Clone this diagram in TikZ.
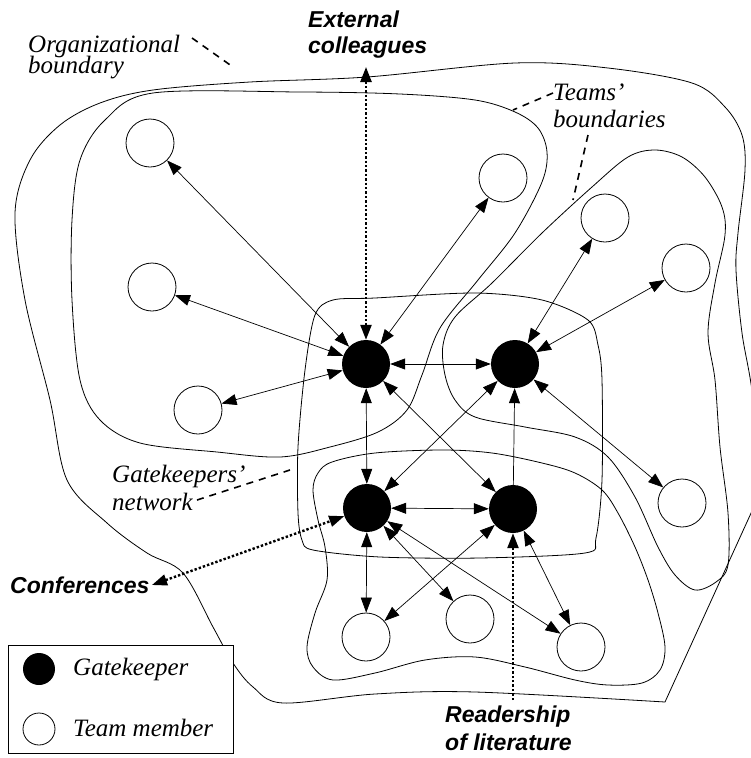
\documentclass[tikz,border=0pt]{standalone}
\usepackage{fontspec}
\setmainfont{Liberation Serif}
\newfontfamily\sanslabel{Liberation Sans}
\usetikzlibrary{arrows.meta}

\begin{document}
\begin{tikzpicture}[x=1pt,y=-1pt,
      gatekeeper/.style={circle,fill=black,minimum size=48pt,inner sep=0pt},
      member/.style={circle,draw,line width=0.8pt,fill=white,minimum size=48pt,inner sep=0pt},
      link/.style={>={Triangle[length=15pt,width=11pt]},<->,line width=0.7pt},
      oneway/.style={>={Triangle[length=15pt,width=11pt]},->,line width=0.7pt},
      extflow/.style={>={Triangle[length=15pt,width=11pt]},line width=2.4pt,dotted},
      boundary/.style={line width=0.8pt},
      leader/.style={line width=1.6pt,dash pattern=on 7pt off 6pt},
      note/.style={font=\fontsize{25}{27}\selectfont\itshape,align=left,inner sep=0pt,anchor=base west},
      source/.style={font=\fontsize{23}{26}\selectfont\sanslabel\bfseries\itshape,align=left,inner sep=0pt,anchor=base west},
    ]
    \useasboundingbox (0,0) rectangle (750,758);

    % organizational boundary
    \draw[boundary] plot[smooth,tension=0.55] coordinates {(757,500) (753,400) (742,333)
        (736,270) (738,233) (745,170) (742,135) (725,107) (692,83) (608,68) (515,63)
        (367,77) (250,82) (153,90) (100,103) (60,125) (30,160) (15,213) (25,300) (50,400)
        (67,480) (107,523) (147,553) (183,573) (213,627) (233,663) (253,687) (283,703)
        (375,694) (475,692) (665,702)} -- cycle;

    % teams' boundaries
    \draw[boundary] plot[smooth cycle,tension=0.55] coordinates {(153,93) (300,92) (400,94)
        (475,100) (515,112) (538,128) (547,152) (542,182) (515,233) (478,280) (440,328)
        (422,375) (407,410) (378,432) (330,447) (280,457) (217,452) (140,443) (100,420)
        (80,380) (72,300) (72,220) (80,160) (105,120)};
    \draw[boundary] plot[smooth cycle,tension=0.55] coordinates {(655,150) (682,157)
        (705,177) (722,207) (725,235) (715,283) (708,333) (715,380) (720,447) (728,513)
        (728,565) (716,582) (695,590) (675,575) (658,547) (635,497) (608,457) (575,437)
        (525,427) (475,417) (455,400) (445,375) (443,345) (455,317) (492,283) (542,233)
        (592,187) (628,157)};
    \draw[boundary] plot[smooth cycle,tension=0.55] coordinates {(375,453) (442,450)
        (492,453) (542,463) (575,473) (602,490) (618,513) (635,547) (648,580) (658,613)
        (665,647) (660,670) (642,683) (608,685) (575,680) (525,667) (475,657) (425,660)
        (375,673) (333,680) (313,667) (307,647) (315,613) (327,580) (325,547) (318,520)
        (313,490) (318,473) (332,462)};

    % gatekeepers' network
    \draw[boundary] plot[smooth cycle,tension=0.5] coordinates {(333,300) (375,298)
        (475,293) (542,300) (588,320) (598,345) (602,380) (602,480) (596,538) (585,553)
        (480,558) (380,557) (313,550) (302,540) (298,513) (298,447) (305,370) (315,315)};

    % people
    \node[gatekeeper] (gk1) at (366,364) {};
    \node[gatekeeper] (gk2) at (515,364) {};
    \node[gatekeeper] (gk3) at (367,508) {};
    \node[gatekeeper] (gk4) at (513,509) {};
    \node[member] (tm1) at (150,143) {};
    \node[member] (tm2) at (152,287) {};
    \node[member] (tm3) at (198,410) {};
    \node[member] (tm4) at (503,178) {};
    \node[member] (tm5) at (605,218) {};
    \node[member] (tm6) at (686,268) {};
    \node[member] (tm7) at (682,503) {};
    \node[member] (tm8) at (366,637) {};
    \node[member] (tm9) at (470,619) {};
    \node[member] (tm10) at (581,647) {};

    % communication links
    \draw[link] (tm1) -- (gk1);
    \draw[link] (tm2) -- (gk1);
    \draw[link] (tm3) -- (gk1);
    \draw[link] (tm4) -- (gk1);
    \draw[link] (gk1) -- (gk2);
    \draw[link] (tm5) -- (gk2);
    \draw[link] (tm6) -- (gk2);
    \draw[link] (tm7) -- (gk2);
    \draw[link] (gk1) -- (gk3);
    \draw[link] (gk1) -- (gk4);
    \draw[link] (gk2) -- (gk3);
    \draw[oneway] (gk4) -- (gk2);
    \draw[link] (gk3) -- (gk4);
    \draw[link] (gk3) -- (tm8);
    \draw[link] (gk3) -- (tm9);
    \draw[link] (gk3) -- (tm10);
    \draw[link] (gk4) -- (tm8);
    \draw[link] (gk4) -- (tm10);

    % outside sources
    \coordinate (extEnd) at (366,67);
    \coordinate (confEnd) at (152,585);
    \coordinate (readEnd) at (513,700);
    \draw[extflow,<->] (extEnd) -- (gk1);
    \draw[extflow,<->] (confEnd) -- (gk3);
    \draw[extflow,->] (readEnd) -- (gk4);
    \node[source] (extLabel) at (308,53) {External\\colleagues};
    \node[source] (confLabel) at (10,593) {Conferences};
    \node[source] (readLabel) at (445,750) {Readership\\[2pt]of literature};

    % boundary labels
    \node[note] (orgLabel) at (28,73) {Organizational\\[-6pt]boundary};
    \node[note] (teamLabel) at (553,127) {Teams'\\boundaries};
    \node[note] (netLabel) at (112,510) {Gatekeepers'\\[1pt]network};
    \coordinate (orgFrom) at (192,38);
    \coordinate (orgTo) at (233,67);
    \coordinate (teamFrom) at (553,93);
    \coordinate (teamTo) at (513,110);
    \coordinate (teamFromB) at (588,135);
    \coordinate (teamToB) at (573,200);
    \coordinate (netFrom) at (197,500);
    \coordinate (netTo) at (290,470);
    \draw[leader] (orgFrom) -- (orgTo);
    \draw[leader] (teamFrom) -- (teamTo);
    \draw[leader] (teamFromB) -- (teamToB);
    \draw[leader] (netFrom) -- (netTo);

    % key
    \node[draw,fill=white,line width=1.2pt,minimum width=225pt,minimum height=108pt,
        inner sep=0pt,anchor=north west] (keyBox) at (8,645) {};
    \node[gatekeeper,minimum size=32pt] (keyGate) at (39,669) {};
    \node[member,minimum size=32pt] (keyMember) at (39,729) {};
    \node[note] (keyGateTxt) at (73,675) {Gatekeeper};
    \node[note] (keyMemberTxt) at (73,736) {Team member};
\end{tikzpicture}
\end{document}
